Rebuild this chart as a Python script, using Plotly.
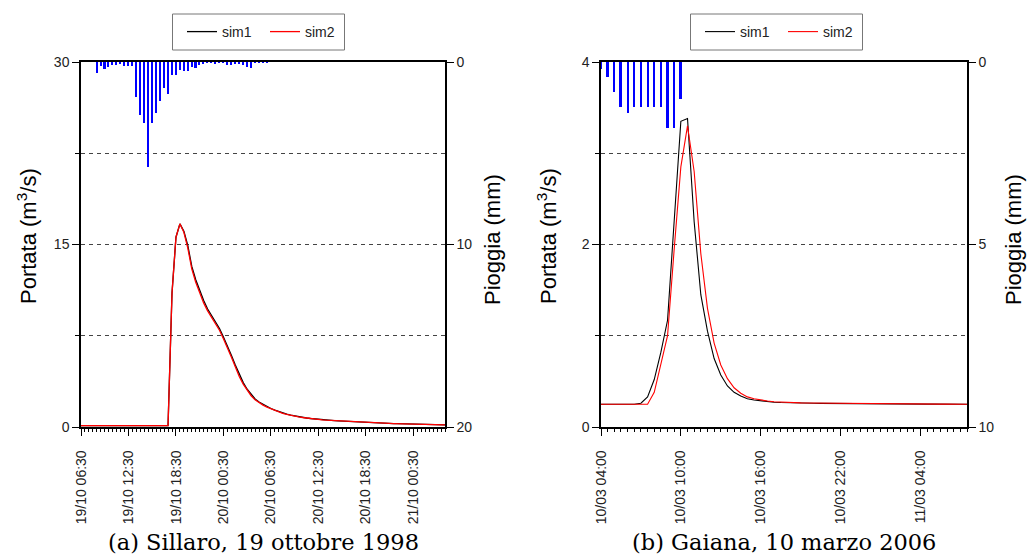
import pandas as pd
import plotly.graph_objects as go

W, H = 1027, 559

# ---------------- Data: (a) Sillaro, 19 ottobre 1998 (30-min steps) ----------------
sillaro_start = "1998-10-19 06:30"
sillaro_end = "1998-10-21 04:30"
sillaro_sim1 = [0.12] * 23 + [
    11.0, 15.6, 16.7, 16.1, 14.9, 13.2, 12.1, 11.2, 10.4, 9.7,
    9.2, 8.7, 8.1, 7.4, 6.7, 5.9, 5.1, 4.3, 3.65, 3.1,
    2.65, 2.3, 2.05, 1.85, 1.67, 1.52, 1.38, 1.25, 1.14, 1.05,
    0.97, 0.9, 0.84, 0.79, 0.74, 0.7, 0.66, 0.63, 0.6, 0.57,
    0.54, 0.52, 0.5, 0.48, 0.46, 0.44, 0.42, 0.4, 0.39, 0.37,
    0.36, 0.34, 0.33, 0.32, 0.31, 0.29, 0.28, 0.27, 0.26, 0.25,
    0.24, 0.23, 0.22, 0.21, 0.21, 0.2, 0.19, 0.18, 0.18, 0.17]
sillaro_sim2 = [0.12] * 23 + [
    11.0, 15.6, 16.7, 16.0, 14.7, 13.0, 11.9, 11.0, 10.2, 9.55,
    9.05, 8.55, 7.95, 7.25, 6.55, 5.75, 4.95, 4.15, 3.52, 3.0,
    2.57, 2.23, 1.99, 1.8, 1.63, 1.49, 1.35, 1.23, 1.12, 1.03,
    0.95, 0.89, 0.83, 0.78, 0.73, 0.69, 0.65, 0.62, 0.59, 0.56,
    0.54, 0.51, 0.49, 0.47, 0.45, 0.43, 0.41, 0.4, 0.38, 0.37,
    0.35, 0.34, 0.33, 0.31, 0.3, 0.29, 0.28, 0.27, 0.26, 0.25,
    0.24, 0.23, 0.22, 0.21, 0.21, 0.2, 0.19, 0.18, 0.18, 0.17]
sillaro_rain = [
    0, 0, 0, 0, 0.6, 0.24, 0.38, 0.27, 0.15, 0.15,
    0.1, 0.22, 0.22, 0.22, 1.93, 2.89, 3.34, 5.77, 3.34, 2.79,
    2.15, 1.42, 1.75, 0.69, 0.73, 0.45, 0.51, 0.51, 0.27, 0.33,
    0.15, 0.08, 0.05, 0.05, 0.1, 0.05, 0.05, 0.15, 0.15, 0.1,
    0.1, 0.15, 0.25, 0.35, 0.05, 0.03, 0.03, 0.02]

# ---------------- Data: (b) Gaiana, 10 marzo 2006 (30-min steps) ----------------
gaiana_start = "2006-03-10 04:00"
gaiana_end = "2006-03-11 07:30"
gaiana_sim1 = [
    0.25, 0.25, 0.25, 0.25, 0.25, 0.25, 0.26, 0.33, 0.52, 0.82,
    1.17, 2.25, 3.35, 3.38, 2.25, 1.45, 1.05, 0.75, 0.57, 0.45,
    0.38, 0.34, 0.31, 0.295, 0.285, 0.278, 0.272, 0.268, 0.265,
    0.263, 0.262, 0.261, 0.26, 0.259, 0.258, 0.257, 0.257, 0.256, 0.256,
    0.255, 0.255, 0.254, 0.254, 0.253, 0.253, 0.253, 0.252, 0.252, 0.252,
    0.251, 0.251, 0.251, 0.25, 0.25, 0.25, 0.25]
gaiana_sim2 = [
    0.25, 0.25, 0.25, 0.25, 0.25, 0.25, 0.25, 0.25, 0.38, 0.68,
    1.0, 1.95, 2.85, 3.3, 2.8, 1.9, 1.3, 0.92, 0.68, 0.53,
    0.43, 0.37, 0.33, 0.31, 0.295, 0.285, 0.277, 0.272, 0.268,
    0.265, 0.264, 0.263, 0.262, 0.261, 0.26, 0.259, 0.258, 0.257, 0.256,
    0.256, 0.255, 0.255, 0.254, 0.254, 0.253, 0.253, 0.252, 0.252, 0.252,
    0.251, 0.251, 0.251, 0.251, 0.25, 0.25, 0.25]
gaiana_rain = [0.2, 0.42, 0.81, 1.22, 1.41, 1.22, 1.22, 1.22, 1.22, 1.22, 1.82, 1.82, 1.01]

series_names = ["sim1", "sim2"]
series_colors = ["black", "red"]
rain_color = "#0000ff"

SANS = "Liberation Sans"


def times(start, n):
    return pd.date_range(start, periods=n, freq="30min")


def fx(px):
    return px / W


def fy(py):
    return 1 - py / H


fig = go.Figure()

# --- Sillaro ---
fig.add_trace(go.Bar(x=times(sillaro_start, len(sillaro_rain)), y=sillaro_rain,
                     xaxis="x", yaxis="y2", marker=dict(color=rain_color, line=dict(width=0)),
                     width=700000, showlegend=False))
for name, col, vals in zip(series_names, series_colors, [sillaro_sim1, sillaro_sim2]):
    fig.add_trace(go.Scatter(x=times(sillaro_start, len(vals)), y=vals, mode="lines",
                             name=name, line=dict(color=col, width=1.3),
                             xaxis="x", yaxis="y", legend="legend"))

# --- Gaiana ---
fig.add_trace(go.Bar(x=times(gaiana_start, len(gaiana_rain)), y=gaiana_rain,
                     xaxis="x2", yaxis="y4", marker=dict(color=rain_color, line=dict(width=0)),
                     width=540000, showlegend=False))
for name, col, vals in zip(series_names, series_colors, [gaiana_sim1, gaiana_sim2]):
    fig.add_trace(go.Scatter(x=times(gaiana_start, len(vals)), y=vals, mode="lines",
                             name=name, line=dict(color=col, width=1.1),
                             xaxis="x2", yaxis="y3", legend="legend2"))

tick_font = dict(family=SANS, size=14, color="#222")
grid = dict(showgrid=True, gridcolor="#444", gridwidth=1, griddash="4px,4px")
ydom = [fy(427), fy(62)]


def xaxis(dom, start, end, anchor):
    return dict(domain=dom, anchor=anchor, type="date", range=[start, end],
                automargin=False,
                tickmode="linear", tick0=start, dtick=6 * 3600000,
                tickformat="%d/%m %H:%M", tickangle=-90, tickfont=tick_font,
                ticks="outside", ticklen=7, tickcolor="black", tickwidth=1,
                ticklabelstandoff=9,
                minor=dict(dtick=1800000, tick0=start, ticks="outside", ticklen=3,
                           tickcolor="black", tickwidth=1, showgrid=False),
                showline=True, linecolor="black", linewidth=1.5, mirror=True,
                showgrid=False, zeroline=False)


def yleft(top, anchor):
    return dict(domain=ydom, anchor=anchor, range=[0, top], automargin=False,
                tickvals=[0, top / 2, top], tickfont=tick_font,
                ticks="outside", ticklen=7, tickcolor="black",
                minor=dict(tickvals=[top / 4, 3 * top / 4], ticks="outside", ticklen=4,
                           tickcolor="black", **grid),
                showline=True, linecolor="black", linewidth=1.5,
                zeroline=False, **grid)


def yright(top, overlay, anchor):
    return dict(overlaying=overlay, anchor=anchor, side="right", range=[top, 0],
                automargin=False,
                tickvals=[0, top / 2, top], tickfont=tick_font,
                ticks="outside", ticklen=7, tickcolor="black",
                showline=True, linecolor="black", linewidth=1.5,
                showgrid=False, zeroline=False)


legend_common = dict(orientation="h", xanchor="left", yanchor="middle",
                     bgcolor="rgba(0,0,0,0)", borderwidth=0,
                     font=dict(family=SANS, size=14, color="#222"),
                     itemwidth=30, entrywidth=38)

fig.update_layout(
    width=W, height=H,
    margin=dict(l=0, r=0, t=0, b=0, autoexpand=False),
    paper_bgcolor="white", plot_bgcolor="white",
    xaxis=xaxis([fx(81), fx(445)], sillaro_start, sillaro_end, "y"),
    yaxis=yleft(30, "x"),
    yaxis2=yright(20, "y", "x"),
    xaxis2=xaxis([fx(601), fx(967)], gaiana_start, gaiana_end, "y3"),
    yaxis3=yleft(4, "x2"),
    yaxis4=yright(10, "y3", "x2"),
    legend=dict(x=fx(182), y=fy(32), **legend_common),
    legend2=dict(x=fx(700), y=fy(32), **legend_common),
    bargap=0,
)

# legend frames
for x0, x1 in [(172.5, 344.5), (690.5, 862.5)]:
    fig.add_shape(type="rect", xref="paper", yref="paper",
                  x0=fx(x0), x1=fx(x1), y0=fy(50), y1=fy(14),
                  line=dict(color="#777", width=1), fillcolor="white", layer="below")

title_font = dict(family=SANS, size=22, color="black")
cap_font = dict(family="DejaVu Serif", size=22.5, color="black")
annots = [
    dict(x=fx(27), y=fy(236), text="Portata (m<sup>3</sup>/s)", textangle=-90, font=title_font),
    dict(x=fx(493), y=fy(240), text="Pioggia (mm)", textangle=-90, font=title_font),
    dict(x=fx(547), y=fy(236), text="Portata (m<sup>3</sup>/s)", textangle=-90, font=title_font),
    dict(x=fx(1014), y=fy(240), text="Pioggia (mm)", textangle=-90, font=title_font),
    dict(x=fx(263), y=fy(542), text="(a) Sillaro, 19 ottobre 1998", font=cap_font),
    dict(x=fx(784), y=fy(542), text="(b) Gaiana, 10 marzo 2006", font=cap_font),
]
for a in annots:
    fig.add_annotation(xref="paper", yref="paper", showarrow=False,
                       xanchor="center", yanchor="middle", **a)

fig.write_html("out.html")
